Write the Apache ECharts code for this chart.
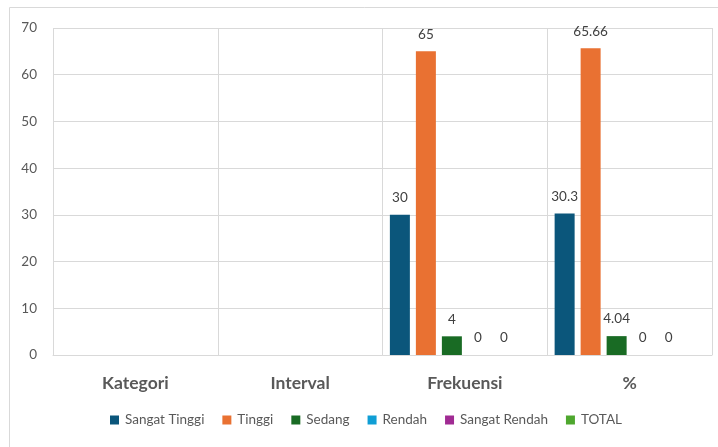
<!DOCTYPE html>
<html>
<head>
<meta charset="utf-8">
<script src="https://cdn.jsdelivr.net/npm/echarts@6/dist/echarts.min.js"></script>
<style>
  html, body { margin: 0; padding: 0; background: #fff; }
  #chart { width: 718px; height: 447px; }
</style>
</head>
<body>
<div id="chart"></div>
<script>
const categories = ["Kategori", "Interval", "Frekuensi", "%"];
const seriesNames = ["Sangat Tinggi", "Tinggi", "Sedang", "Rendah", "Sangat Rendah", "TOTAL"];
const sangatTinggi = [null, null, 30, 30.3];
const tinggi = [null, null, 65, 65.66];
const sedang = [null, null, 4, 4.04];
const rendah = [null, null, 0, 0];
const sangatRendah = [null, null, 0, 0];
const total = [null, null, null, null];
const yTicks = { min: 0, max: 70, interval: 10 };

const colors = ["#0b567b", "#e97132", "#196b24", "#0f9ed5", "#a02b93", "#4ea72e"];
const values = [sangatTinggi, tinggi, sedang, rendah, sangatRendah, total];
const font = "Lato, 'Liberation Sans', sans-serif";

const chart = echarts.init(document.getElementById("chart"));

const options = {
    animation: false,
    color: colors,
    textStyle: { fontFamily: font },
    graphic: [
        {
            type: "rect",
            shape: { x: 9.5, y: 7.5, width: 720, height: 450 },
            style: { fill: "none", stroke: "#d9d9d9", lineWidth: 1 },
            silent: true,
        },
    ],
    grid: {
        left: 53,
        right: 6,
        top: 28,
        bottom: 92,
    },
    legend: {
        bottom: 20,
        left: 110,
        padding: 0,
        icon: "rect",
        itemWidth: 9,
        itemHeight: 9,
        itemGap: 18,
        textStyle: { color: "#595959", fontSize: 13.5, fontFamily: font, padding: [0, 0, 0, 1] },
        data: seriesNames,
    },
    xAxis: {
        type: "category",
        data: categories,
        axisTick: { show: false },
        axisLine: { show: true, lineStyle: { color: "#d9d9d9", width: 1 } },
        splitLine: { show: true, interval: 0, lineStyle: { color: "#d9d9d9", width: 1 } },
        axisLabel: {
            interval: 0,
            margin: 19,
            color: "#595959",
            fontSize: 17.5,
            fontWeight: "bold",
            fontFamily: font,
        },
    },
    yAxis: {
        type: "value",
        min: yTicks.min,
        max: yTicks.max,
        interval: yTicks.interval,
        axisLine: { show: false },
        axisTick: { show: false },
        splitLine: { show: true, lineStyle: { color: "#d9d9d9", width: 1 } },
        axisLabel: {
            margin: 16,
            color: "#595959",
            fontSize: 13.5,
            fontFamily: font,
        },
    },
    series: seriesNames.map((name, i) => ({
        name: name,
        type: "bar",
        data: values[i],
        barWidth: 20,
        barGap: "30%",
        label: {
            show: true,
            position: "top",
            distance: 10,
            color: "#404040",
            fontSize: 13.5,
            fontFamily: font,
        },
    })),
};

chart.setOption(options);
</script>
</body>
</html>
